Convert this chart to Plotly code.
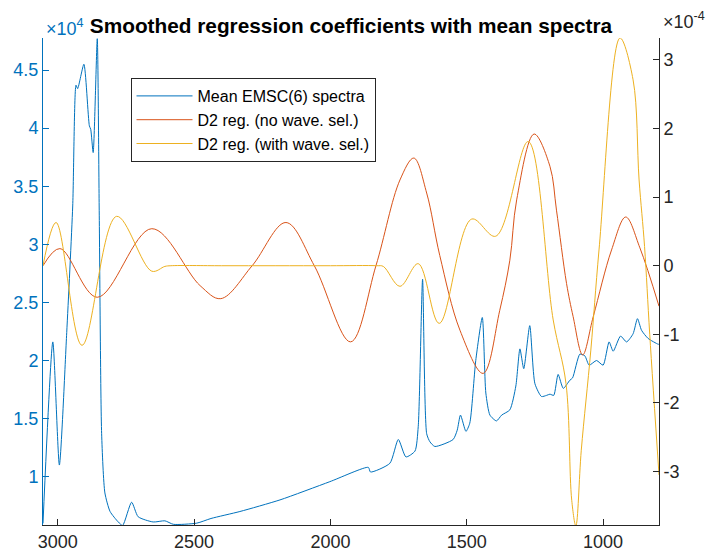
import plotly.graph_objects as go
import numpy as np

# ---- data ----
# Mean EMSC(6) spectrum: wavenumber, intensity (x1e4)
spec_wn = [3054, 3018, 2994, 2967, 2945, 2933, 2927, 2904, 2884, 2879, 2870, 2855, 2848,
           2839, 2827, 2808, 2778, 2762, 2729, 2705, 2650, 2607, 2576, 2490, 2438, 2332,
           2185, 2002, 1861, 1853, 1782, 1751, 1723, 1690, 1678, 1662, 1647, 1635, 1617,
           1550, 1535, 1523, 1503, 1489, 1467, 1443, 1430, 1415, 1391, 1372, 1342, 1320,
           1305, 1291, 1269, 1250, 1226, 1207, 1195, 1181, 1165, 1146, 1122, 1112, 1085,
           1067, 1051, 1024, 1000, 978, 963, 936, 914, 890, 874, 859, 835, 798, 795]
spec_val = [0.598, 2.16, 1.10, 2.24, 3.33, 4.37, 4.34, 4.55, 4.02, 3.99, 3.79, 4.77, 3.33,
            1.37, 0.86, 0.70, 0.61, 0.58, 0.78, 0.655, 0.61, 0.62, 0.59, 0.60, 0.64, 0.70,
            0.80, 0.957, 1.08, 1.04, 1.115, 1.32, 1.17, 1.22, 1.43, 2.70, 1.37, 1.30, 1.26,
            1.32, 1.40, 1.53, 1.39, 1.46, 2.00, 2.37, 1.72, 1.53, 1.48, 1.53, 1.575, 1.78,
            2.10, 1.93, 2.30, 1.80, 1.69, 1.70, 1.71, 1.70, 1.88, 1.76, 1.83, 1.85, 2.055,
            2.04, 1.96, 2.00, 1.96, 2.16, 2.08, 2.21, 2.16, 2.23, 2.36, 2.26, 2.19, 2.14, 2.14]

# D2 regression (no wave. sel.): wavenumber, coefficient (x1e-4)
reg1_wn = [3054, 2992, 2855, 2655, 2478, 2402, 2287, 2163, 2059, 1926, 1833, 1745, 1694,
           1647, 1599, 1525, 1440, 1379, 1342, 1317, 1253, 1195, 1171, 1134, 1110, 1075,
           1036, 969, 917, 865, 795]
reg1_val = [0.0, 0.25, -0.46, 0.54, -0.29, -0.48, 0.0, 0.63, 0.0, -1.11, 0.0, 1.25, 1.57,
            1.06, 0.15, -0.94, -1.57, -0.65, 0.08, 0.96, 1.92, 1.45, 0.81, -0.26, -0.74, -1.30,
            -0.74, 0.23, 0.71, 0.26, -0.59]

# D2 regression (with wave. sel.): wavenumber, coefficient (x1e-4)
reg2_wn = [3054, 3006, 2911, 2784, 2655, 2607, 2585, 2400, 2200, 2000, 1830, 1806, 1745,
           1678, 1601, 1482, 1394, 1275, 1183, 1136, 1115, 1100, 1080, 1045, 1015, 938,
           890, 868, 848, 829, 795]
reg2_val = [0.0, 0.63, -1.16, 0.72, -0.08, -0.01, 0.0, 0.0, 0.0, 0.0, 0.0, -0.01, -0.30,
            0.03, -0.84, 0.68, 0.43, 1.81, -0.79, -1.72, -3.42, -3.79, -2.69, -1.23, 0.23,
            3.32, 2.71, 1.25, 0.28, -1.0, -3.05]

x_ticks = [3000, 2500, 2000, 1500, 1000]
left_ticks = [1, 1.5, 2, 2.5, 3, 3.5, 4, 4.5]
right_ticks = [-3, -2, -1, 0, 1, 2, 3]

BLUE = "#0072BD"
RED = "#D95319"
YEL = "#EDB120"
GRAY = "#262626"

fig = go.Figure()
fig.add_trace(go.Scatter(x=spec_wn, y=np.array(spec_val) * 1e4, mode="lines",
                         name="Mean EMSC(6) spectra",
                         line=dict(color=BLUE, width=1, shape="spline", smoothing=0.6)))
fig.add_trace(go.Scatter(x=reg1_wn, y=np.array(reg1_val) * 1e-4, mode="lines",
                         name="D2 reg. (no wave. sel.)", yaxis="y2",
                         line=dict(color=RED, width=1, shape="spline", smoothing=1.0)))
fig.add_trace(go.Scatter(x=reg2_wn, y=np.array(reg2_val) * 1e-4, mode="lines",
                         name="D2 reg. (with wave. sel.)", yaxis="y2",
                         line=dict(color=YEL, width=1, shape="spline", smoothing=1.0)))

W, H = 709, 556
L, R, T, B = 43, 659, 38, 525

def px(xp):
    return (xp - L) / (R - L)

def py(yp):
    return (B - yp) / (B - T)

font = "Liberation Sans, Arial, sans-serif"
TF = 18

fig.update_layout(
    width=W, height=H,
    margin=dict(l=L, r=W - R, t=T, b=H - B, autoexpand=False),
    paper_bgcolor="white", plot_bgcolor="white",
    font=dict(family=font, size=TF, color=GRAY),
    title=dict(text="<b>Smoothed regression coefficients with mean spectra</b>",
               x=0.5, xref="paper", xanchor="center",
               y=1 - 26 / H, yref="container", yanchor="middle",
               font=dict(size=20.8, color="black", family=font)),
    showlegend=True,
    legend=dict(x=px(130.5), y=py(78), xanchor="left", yanchor="top",
                bgcolor="white", bordercolor=GRAY, borderwidth=1,
                font=dict(size=16, color="black", family=font),
                itemwidth=56, tracegroupgap=0),
    xaxis=dict(range=[3054, 795], tickvals=x_ticks, ticktext=[str(v) for v in x_ticks],
               ticks="inside", ticklen=6, tickcolor=GRAY, showline=True, linecolor=GRAY,
               linewidth=1, showgrid=False, zeroline=False, mirror=False, automargin=False,
               tickfont=dict(size=TF, color=GRAY)),
    yaxis=dict(range=[5840, 47760], tickvals=[v * 1e4 for v in left_ticks],
               ticktext=[f"{v:g}" for v in left_ticks],
               ticks="inside", ticklen=6, tickcolor=BLUE, showline=True, linecolor=BLUE,
               linewidth=1, showgrid=False, zeroline=False, automargin=False,
               tickfont=dict(size=TF, color=BLUE)),
    yaxis2=dict(range=[-3.78e-4, 3.32e-4], overlaying="y", side="right",
                tickvals=[v * 1e-4 for v in right_ticks],
                ticktext=[f"{v:g}" for v in right_ticks],
                ticks="inside", ticklen=6, tickcolor=GRAY, showline=True, linecolor=GRAY,
                linewidth=1, showgrid=False, zeroline=False, automargin=False,
                tickfont=dict(size=TF, color=GRAY)),
    annotations=[
        dict(text="×10<sup>4</sup>", xref="paper", yref="paper", x=px(44), y=py(27),
             xanchor="left", yanchor="middle", showarrow=False,
             font=dict(size=TF, color=BLUE, family=font)),
        dict(text="×10<sup>-4</sup>", xref="paper", yref="paper", x=px(661), y=py(21),
             xanchor="left", yanchor="middle", showarrow=False,
             font=dict(size=TF, color=GRAY, family=font)),
    ],
)

fig.write_html("out.html", config={"displayModeBar": False},
               post_script="document.body.style.margin='0';document.body.style.padding='0';")
